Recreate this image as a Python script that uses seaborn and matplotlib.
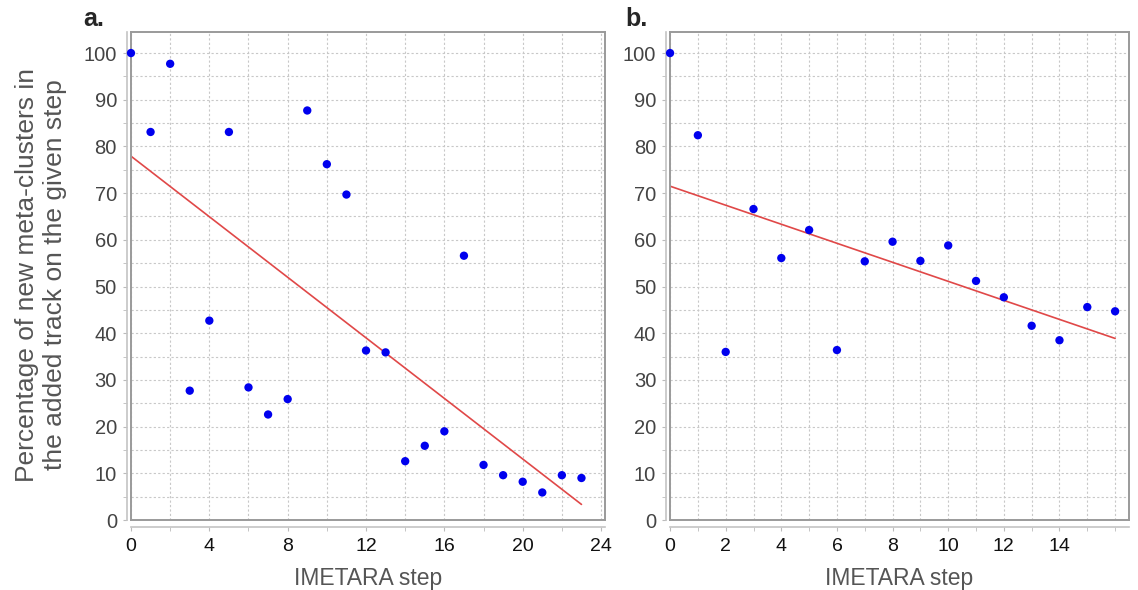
import numpy as np
import pandas as pd
import seaborn as sns
import matplotlib.pyplot as plt

# panel a: percentage of new meta-clusters per IMETARA step
steps_a = list(range(24))
pct_a = [100, 83.1, 97.7, 27.7, 42.7, 83.1, 28.4, 22.6, 25.9, 87.7, 76.2, 69.7,
         36.3, 35.9, 12.6, 15.9, 19.0, 56.6, 11.8, 9.6, 8.2, 5.9, 9.6, 9.0]

# panel b
steps_b = list(range(17))
pct_b = [100, 82.4, 36.0, 66.6, 56.1, 62.1, 36.4, 55.4, 59.6, 55.5, 58.8,
         51.2, 47.7, 41.6, 38.5, 45.6, 44.7]

xticks_a = list(range(0, 25, 4))
xticks_b = list(range(0, 15, 2))
yticks = list(range(0, 101, 10))

df_a = pd.DataFrame({'step': steps_a, 'pct': pct_a})
df_b = pd.DataFrame({'step': steps_b, 'pct': pct_b})

sns.set_style('white')
plt.rcParams['font.family'] = ['Liberation Sans', 'DejaVu Sans']

fig = plt.figure(figsize=(11.38, 5.9), dpi=100)
ax_a = fig.add_axes([0.1151, 0.1186, 0.4165, 0.8271])
ax_b = fig.add_axes([0.5888, 0.1186, 0.4033, 0.8271])

grid_kw = dict(color='#c8c8c8', lw=0.8, ls=(0, (2, 2)))
frame_c = '#9a9a9a'


def draw(ax, df, xmax, grid_dx, xticks, minor_dx):
    sns.scatterplot(data=df, x='step', y='pct', ax=ax, color='#0000ee', s=36,
                    edgecolor='none', zorder=3, clip_on=False)
    sns.regplot(data=df, x='step', y='pct', ax=ax, scatter=False, ci=None,
                line_kws=dict(color='#e04848', lw=1.2), truncate=True)
    ax.set_xlim(0, xmax)
    ax.set_ylim(0, 104.5)
    ax.set_xticks(np.arange(0, xmax, grid_dx))
    ax.set_yticks(np.arange(0, 101, 5))
    ax.grid(True, **grid_kw)
    ax.tick_params(left=False, bottom=False, labelleft=False, labelbottom=False)
    ax.set_xlabel('')
    ax.set_ylabel('')
    for s in ax.spines.values():
        s.set_visible(True)
        s.set_color(frame_c)
        s.set_linewidth(1.4)

    sx = ax.secondary_xaxis(-0.014)
    sx.set_xticks(xticks)
    sx.set_xticks(np.arange(0, xmax, minor_dx), minor=True)
    sx.tick_params(which='both', length=3, color='#bbbbbb', labelsize=14,
                   labelcolor='#111111', pad=5)
    sx.spines['bottom'].set_color('#c4c4c4')
    sx.spines['bottom'].set_linewidth(1.2)
    sx.set_xlabel('IMETARA step', fontsize=16.5, color='#555555', labelpad=9)

    sy = ax.secondary_yaxis(-0.009)
    sy.set_yticks(yticks)
    sy.set_yticks(np.arange(0, 101, 5), minor=True)
    sy.tick_params(which='both', length=3, color='#bbbbbb', labelsize=14.5,
                   labelcolor='#444444', pad=4)
    sy.spines['left'].set_color('#c4c4c4')
    sy.spines['left'].set_linewidth(1.2)


draw(ax_a, df_a, 24.2, 2, xticks_a, 2)
draw(ax_b, df_b, 16.5, 1, xticks_b, 1)

fig.text(41 / 1138, 1 - 275 / 590,
         'Percentage of new meta-clusters in\nthe added track on the given step',
         rotation=90, ha='center', va='center', fontsize=19, color='#555555',
         linespacing=1.2)
fig.text(83 / 1138, 1 - 19 / 590, 'a.', fontsize=18, fontweight='bold',
         ha='left', va='center')
fig.text(625 / 1138, 1 - 19 / 590, 'b.', fontsize=18, fontweight='bold',
         ha='left', va='center')

plt.savefig('out.png', dpi=100)
